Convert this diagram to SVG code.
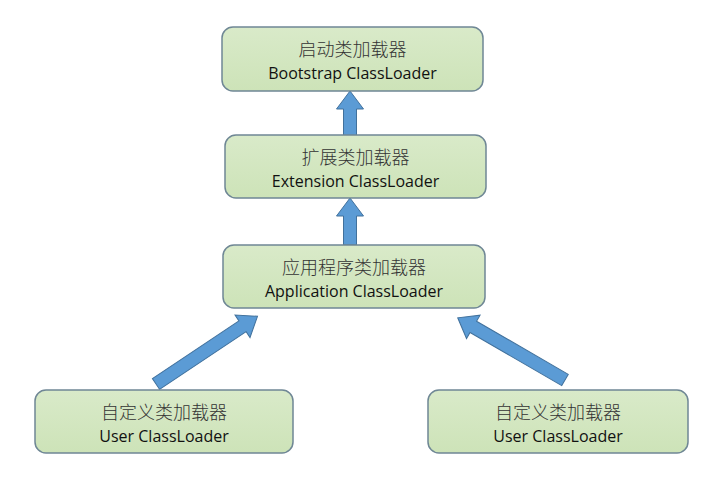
<svg xmlns="http://www.w3.org/2000/svg" width="709" height="483" viewBox="0 0 709 483">
<defs>
<linearGradient id="g" x1="0" y1="0" x2="0" y2="1">
<stop offset="0" stop-color="#d9eac9"/>
<stop offset="1" stop-color="#cde3b8"/>
</linearGradient>
<style>
.box{fill:url(#g);stroke:#6f8795;stroke-width:1.5}
.cn{font-family:"Noto Sans CJK SC",sans-serif;font-size:18px;font-weight:300;fill:#333;text-anchor:middle}
.en{font-family:"Open Sans","Liberation Sans",sans-serif;font-size:16px;fill:#111;text-anchor:middle}
.arr{fill:#5b9bd5;stroke:#41719c;stroke-width:1}
</style>
</defs>
<rect width="709" height="483" fill="#fff"/>
<g id="connectors">
<polygon class="arr" transform="translate(350,136) rotate(-90)" points="0,-6.5 27,-6.5 27,-13.5 45,0 27,13.5 27,6.5 0,6.5"/>
<polygon class="arr" transform="translate(350,245) rotate(-90)" points="0,-6.5 29,-6.5 29,-13.5 47,0 29,13.5 29,6.5 0,6.5"/>
<polygon class="arr" transform="translate(156,384) rotate(-33.7)" points="0,-6.5 104,-6.5 104,-13.5 122,0 104,13.5 104,6.5 0,6.5"/>
<polygon class="arr" transform="translate(565,380) rotate(-149.9)" points="0,-6.5 106,-6.5 106,-13.5 124,0 106,13.5 106,6.5 0,6.5"/>
</g>
<g id="bootstrap">
<rect class="box" x="222" y="27" width="261" height="64" rx="11"/>
<text class="cn" x="352.5" y="56">启动类加载器</text>
<text class="en" x="352.5" y="79">Bootstrap ClassLoader</text>
</g>
<g id="extension">
<rect class="box" x="225" y="135" width="261" height="63" rx="11"/>
<text class="cn" x="355.5" y="164">扩展类加载器</text>
<text class="en" x="355.5" y="187">Extension ClassLoader</text>
</g>
<g id="application">
<rect class="box" x="223" y="245" width="262" height="63" rx="11"/>
<text class="cn" x="354" y="274">应用程序类加载器</text>
<text class="en" x="354" y="297">Application ClassLoader</text>
</g>
<g id="user1">
<rect class="box" x="35" y="390" width="258" height="63" rx="11"/>
<text class="cn" x="164" y="419">自定义类加载器</text>
<text class="en" x="164" y="442">User ClassLoader</text>
</g>
<g id="user2">
<rect class="box" x="428" y="390" width="260" height="63" rx="11"/>
<text class="cn" x="558" y="419">自定义类加载器</text>
<text class="en" x="558" y="442">User ClassLoader</text>
</g>
</svg>
